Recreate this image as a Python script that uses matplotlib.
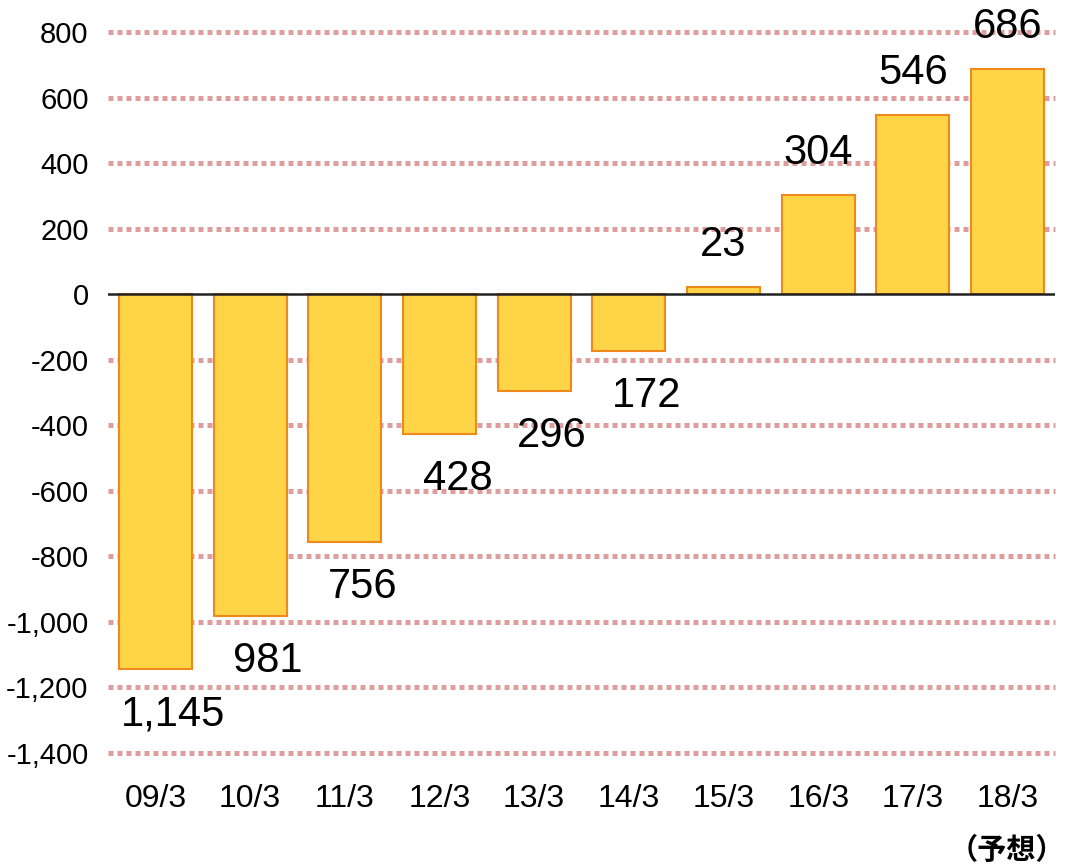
import matplotlib
matplotlib.use("Agg")
import matplotlib.pyplot as plt
from matplotlib import font_manager as fm

categories = ["09/3", "10/3", "11/3", "12/3", "13/3", "14/3", "15/3", "16/3", "17/3", "18/3"]
values = [-1145, -981, -756, -428, -296, -172, 23, 304, 546, 686]
yticks = [800, 600, 400, 200, 0, -200, -400, -600, -800, -1000, -1200, -1400]
note = "（予想）"

names = {f.name for f in fm.fontManager.ttflist}
if "Liberation Sans Narrow" in names:
    narrow = "Liberation Sans Narrow"
    tick_fs, xtick_fs, val_fs = 24, 26, 34
else:
    narrow = "Liberation Sans"
    tick_fs, xtick_fs, val_fs = 21, 23, 30

fig = plt.figure(figsize=(10.70, 8.67), dpi=100)
ax = fig.add_axes([108/1070, 1-753/867, (1055-108)/1070, 721/867])

x = list(range(len(categories)))
ax.bar(x, values, width=0.77, color="#FFD447", edgecolor="#EE8A1C", linewidth=1.5, zorder=3)

for yv in yticks:
    if yv == 0:
        continue
    ax.axhline(yv, color="#DE9E9E", linewidth=3.6, linestyle=(0, (1.0, 0.8)),
               zorder=1, clip_on=False)
ax.axhline(0, color="#222222", linewidth=1.8, zorder=4)

ax.set_xlim(-0.5, len(categories) - 0.5)
ax.set_ylim(-1400, 800)
ax.set_yticks(yticks)
ax.set_yticklabels([f"{v:,}" for v in yticks], fontsize=tick_fs, family=[narrow, "DejaVu Sans"])
ax.set_xticks(x)
ax.set_xticklabels(categories, fontsize=xtick_fs, family=[narrow, "DejaVu Sans"])
ax.tick_params(axis="both", length=0)
ax.tick_params(axis="y", pad=14)
ax.tick_params(axis="x", pad=22)
for s in ax.spines.values():
    s.set_visible(False)

for xi, v in zip(x, values):
    if v < 0:
        ax.annotate(f"{abs(v):,}", xy=(xi, v), xytext=(18, -45), textcoords="offset pixels",
                    ha="center", va="center", fontsize=val_fs, family=[narrow, "DejaVu Sans"],
                    annotation_clip=False, zorder=5)
    else:
        ax.annotate(f"{v:,}", xy=(xi, v), xytext=(0, 42), textcoords="offset pixels",
                    ha="center", va="center", fontsize=val_fs, family=[narrow, "DejaVu Sans"],
                    annotation_clip=False, zorder=5)

fig.text(1007/1070, 1-850/867, note, ha="center", va="center", fontsize=21,
         fontweight="bold", family=["Noto Sans CJK JP", "DejaVu Sans"])

fig.savefig("out.png", dpi=100)
